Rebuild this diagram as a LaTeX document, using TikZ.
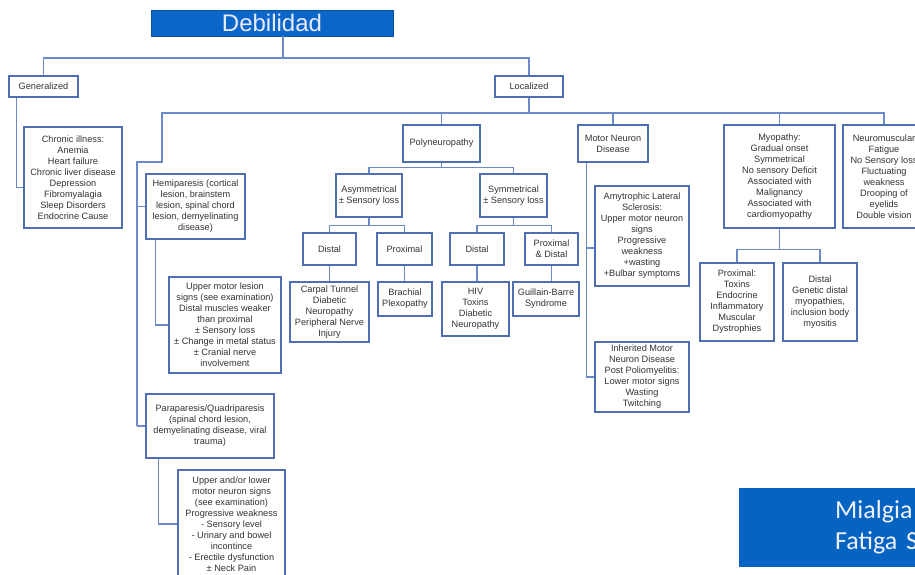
\documentclass[tikz,border=0pt]{standalone}
\usepackage{xcolor}
\usepackage{fontspec}
\setmainfont{Liberation Sans}
\newfontfamily\slidefont{Carlito}
\usepackage{tikz}
\usetikzlibrary{positioning}

\begin{document}
\begin{tikzpicture}[x=1pt, y=-1pt,
    box/.style={draw=boxblue, line width=1.1pt, fill=white, align=center, inner sep=1pt,
      text=textgray, font=\fontsize{9.2}{11}\selectfont},
    link/.style={draw=linkblue, line width=1.2pt}]
  \definecolor{boxblue}{HTML}{4F6FB5}
  \definecolor{linkblue}{HTML}{6A8AC8}
  \definecolor{textgray}{HTML}{333333}
  \definecolor{titleblue}{HTML}{0A66C8}
  \definecolor{slideblue}{HTML}{0563C1}

  \useasboundingbox (0,0) rectangle (915,575);
  \fill[white] (0,0) rectangle (915,575);

  \node[fill=titleblue, draw=titleblue!80!black, minimum width=242, minimum height=26, inner sep=0pt,
    text=blue!8!white, font=\fontsize{24}{26}\selectfont] (title) at (272,23) {Debilidad};

  \node[box, minimum width=69, minimum height=21] (gen) at (43.5,86.5) {Generalized};
  \node[box, minimum width=68, minimum height=21] (loc) at (529,86.5) {Localized};

  \node[box, minimum width=98, minimum height=101] (chronic) at (73,177.5)
    {Chronic illness:\\ Anemia\\ Heart failure\\ Chronic liver disease\\ Depression\\ Fibromyalagia\\ Sleep Disorders\\ Endocrine Cause};

  \node[box, minimum width=99, minimum height=65] (hemi) at (195.5,206.5)
    {Hemiparesis (cortical\\ lesion, brainstem\\ lesion, spinal chord\\ lesion, demyelinating\\ disease)};
  \node[box, minimum width=112, minimum height=96] (upper1) at (225,325)
    {Upper motor lesion\\ signs (see examination)\\ Distal muscles weaker\\ than proximal\\ ± Sensory loss\\ ± Change in metal status\\ ± Cranial nerve\\ involvement};
  \node[box, minimum width=128, minimum height=64] (para) at (210,426)
    {Paraparesis/Quadriparesis\\ (spinal chord lesion,\\ demyelinating disease, viral\\ trauma)};
  \node[box, minimum width=107, minimum height=108] (upper2) at (231.5,524)
    {Upper and/or lower\\ motor neuron signs\\ (see examination)\\ Progressive weakness\\ - Sensory level\\ - Urinary and bowel\\ incontince\\ - Erectile dysfunction\\ ± Neck Pain};

  \node[box, minimum width=77, minimum height=37] (poly) at (441.5,143.5) {Polyneuropathy};
  \node[box, minimum width=66, minimum height=43] (asym) at (369,195.5) {Asymmetrical\\ ± Sensory loss};
  \node[box, minimum width=67, minimum height=43] (sym) at (513.5,195.5) {Symmetrical\\ ± Sensory loss};
  \node[box, minimum width=53, minimum height=32] (dist1) at (329.5,249) {Distal};
  \node[box, minimum width=55, minimum height=32] (prox1) at (404.5,249) {Proximal};
  \node[box, minimum width=54, minimum height=32] (dist2) at (477,249) {Distal};
  \node[box, minimum width=53, minimum height=32] (pd) at (551.5,249) {Proximal\\ \& Distal};
  \node[box, minimum width=79, minimum height=60] (carpal) at (329.5,312)
    {Carpal Tunnel\\ Diabetic\\ Neuropathy\\ Peripheral Nerve\\ Injury};
  \node[box, minimum width=54, minimum height=34] (brach) at (405,299) {Brachial\\ Plexopathy};
  \node[box, minimum width=67, minimum height=54] (hiv) at (475.5,309) {HIV\\ Toxins\\ Diabetic\\ Neuropathy};
  \node[box, minimum width=66, minimum height=34] (guil) at (546,299) {Guillain-Barre\\ Syndrome};

  \node[box, minimum width=70, minimum height=37] (mnd) at (613,143.5) {Motor Neuron\\ Disease};
  \node[box, minimum width=94, minimum height=100] (amy) at (642,236)
    {Amytrophic Lateral\\ Sclerosis:\\ Upper motor neuron\\ signs\\ Progressive\\ weakness\\ +wasting\\ +Bulbar symptoms};
  \node[box, minimum width=94, minimum height=70] (inh) at (642,377)
    {Inherited Motor\\ Neuron Disease\\ Post Poliomyelitis:\\ Lower motor signs\\ Wasting\\ Twitching};

  \node[box, minimum width=111, minimum height=103] (myo) at (779.5,176.5)
    {Myopathy:\\ Gradual onset\\ Symmetrical\\ No sensory Deficit\\ Associated with\\ Malignancy\\ Associated with\\ cardiomyopathy};
  \node[box, minimum width=74, minimum height=78] (myprox) at (737,302)
    {Proximal:\\ Toxins\\ Endocrine\\ Inflammatory\\ Muscular\\ Dystrophies};
  \node[box, minimum width=74, minimum height=78] (mydist) at (820,302)
    {Distal\\ Genetic distal\\ myopathies,\\ inclusion body\\ myositis};
  \node[box, minimum width=82, minimum height=103] (nmj) at (884,176.5)
    {Neuromuscular\\ Fatigue\\ No Sensory loss\\ Fluctuating\\ weakness\\ Drooping of\\ eyelids\\ Double vision};

  \node[fill=slideblue, anchor=north west, minimum height=79, inner xsep=96, inner ysep=0pt,
    text width=110, align=left, text=blue!6!white, font=\slidefont\fontsize{26}{31}\selectfont]
    (fatigue) at (739,488) {Mialgia\\ Fatiga S};

  \coordinate (topbus) at (283,58);
  \coordinate (locbus) at (529,113);
  \coordinate (leftbend) at (162,162);
  \coordinate (leftstem) at (137,162);

  \draw[link] (title.south -| topbus) -- (topbus);
  \draw[link] (gen.north) |- (topbus) -| (loc.north);
  \draw[link] ([xshift=8pt]gen.south west) |- ([yshift=-10pt]chronic.west);
  \draw[link] (loc.south) -- (locbus);

  \draw[link] (leftstem |- para.west) -- (leftstem) -- (leftbend) -- (leftbend |- locbus)
    -- (locbus -| nmj.north) -- (nmj.north);
  \draw[link] (poly.north) -- (poly.north |- locbus);
  \draw[link] (mnd.north) -- (mnd.north |- locbus);
  \draw[link] (myo.north) -- (myo.north |- locbus);

  \draw[link] (hemi.west) -- (hemi.west -| leftstem);
  \draw[link] (para.west) -- (para.west -| leftstem);
  \draw[link] ([xshift=10pt]hemi.south west) |- (upper1.west);
  \draw[link] ([xshift=13pt]para.south west) |- (upper2.west);

  \draw[link] (poly.south) -- ++(0,5);
  \draw[link] (asym.north) |- ([yshift=-5pt]poly.south) -| (sym.north);
  \draw[link] (asym.south) -- ++(0,8);
  \draw[link] (dist1.north) |- ([yshift=-8pt]asym.south) -| (prox1.north);
  \draw[link] (sym.south) -- ++(0,8);
  \draw[link] (dist2.north) |- ([yshift=-8pt]sym.south) -| (pd.north);
  \draw[link] (dist1.south) -- (dist1.south |- carpal.north);
  \draw[link] (prox1.south) -- (prox1.south |- brach.north);
  \draw[link] (dist2.south) -- (dist2.south |- hiv.north);
  \draw[link] (pd.south) -- (pd.south |- guil.north);

  \draw[link] ([xshift=9pt]mnd.south west) |- (inh.west);
  \draw[link] ([yshift=-12pt]amy.west) -- ++(-8,0);

  \draw[link] (myo.south) -- ++(0,21);
  \draw[link] (myprox.north) |- ([yshift=-21pt]myo.south) -| (mydist.north);
\end{tikzpicture}
\end{document}
